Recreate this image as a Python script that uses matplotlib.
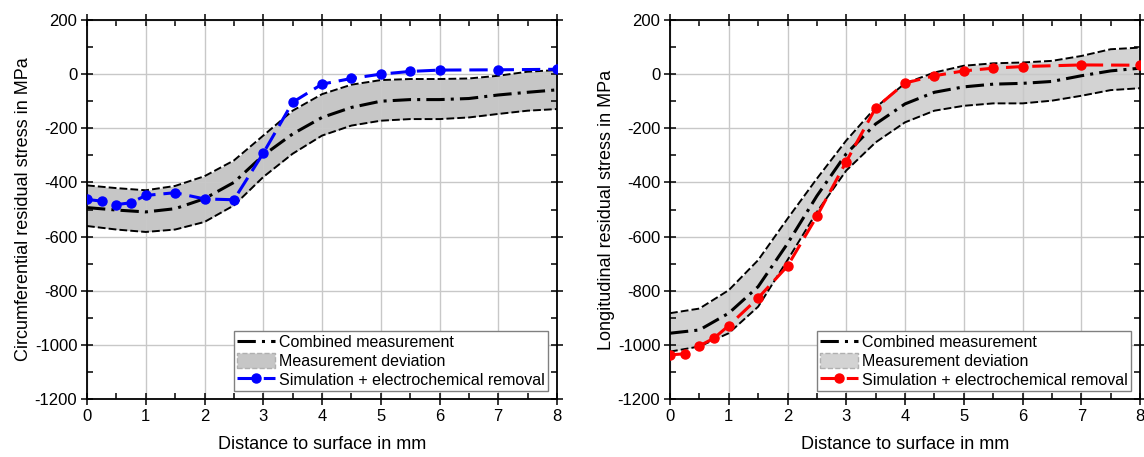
import matplotlib
matplotlib.use("Agg")
import matplotlib.pyplot as plt
from matplotlib.lines import Line2D
from matplotlib.patches import Patch
from matplotlib.ticker import MultipleLocator

plt.rcParams['font.family'] = ['Liberation Sans', 'DejaVu Sans']
plt.rcParams['axes.unicode_minus'] = False

# ---- data ----
x_meas = [0, 0.5, 1, 1.5, 2, 2.5, 3, 3.5, 4, 4.5, 5, 5.5, 6, 6.5, 7, 7.5, 8]

circ_mean = [-493, -502, -509, -497, -460, -400, -300, -221, -160, -123, -100, -94, -94, -90, -77, -67, -58]
circ_upper = [-411, -421, -429, -413, -377, -319, -227, -135, -74, -39, -22, -18, -18, -16, -6, 9, 15]
circ_lower = [-561, -574, -583, -574, -546, -485, -380, -294, -227, -190, -172, -166, -166, -160, -147, -135, -129]

long_mean = [-957, -945, -883, -785, -626, -450, -294, -184, -110, -67, -47, -37, -34, -27, -6, 12, 22]
long_upper = [-883, -866, -798, -687, -534, -386, -245, -123, -34, 6, 31, 40, 43, 49, 67, 92, 98]
long_lower = [-1025, -1006, -957, -859, -687, -509, -356, -252, -178, -135, -117, -108, -108, -98, -80, -59, -52]

x_sim = [0, 0.25, 0.5, 0.75, 1, 1.5, 2, 2.5, 3, 3.5, 4, 4.5, 5, 5.5, 6, 7, 8]
circ_sim = [-463, -469, -482, -475, -448, -438, -461, -464, -292, -104, -37, -16, 0, 10, 15, 16, 18]
long_sim = [-1037, -1033, -1004, -975, -929, -827, -709, -525, -323, -125, -33, -6, 12, 22, 28, 34, 33]

labels = ["Combined measurement", "Measurement deviation",
          "Simulation + electrochemical removal"]
xlabel = "Distance to surface in mm"
ylabels = ["Circumferential residual stress in MPa", "Longitudinal residual stress in MPa"]

# ---- figure ----
fig = plt.figure(figsize=(11.44, 4.57), dpi=100)
W, H = 1144, 457
ax1 = fig.add_axes([87 / W, 1 - 399 / H, 470 / W, 379 / H])
ax2 = fig.add_axes([670 / W, 1 - 399 / H, 470 / W, 379 / H])

DASHDOT = (0, (6, 2, 1, 2))
BAND_DASH = (0, (4, 1.6))
SIM_DASH = (0, (6, 2.6))

panels = [
    (ax1, circ_mean, circ_upper, circ_lower, circ_sim, '#0000ff', '#c6c6c6', ylabels[0]),
    (ax2, long_mean, long_upper, long_lower, long_sim, '#ff0000', '#d3d3d3', ylabels[1]),
]

for ax, mean, up, lo, sim, col, fillc, ylab in panels:
    ax.set_axisbelow(True)
    ax.fill_between(x_meas, lo, up, color=fillc, lw=0, zorder=0.4)
    ax.plot(x_meas, up, color='black', lw=1.4, linestyle=BAND_DASH, zorder=2)
    ax.plot(x_meas, lo, color='black', lw=1.4, linestyle=BAND_DASH, zorder=2)
    ax.plot(x_meas, mean, color='black', lw=2.2, linestyle=DASHDOT, zorder=3)
    ax.plot(x_sim, sim, color=col, lw=2.2, linestyle=SIM_DASH, marker='o',
            markersize=6.5, zorder=4)

    ax.set_xlim(0, 8)
    ax.set_ylim(-1200, 200)
    ax.xaxis.set_major_locator(MultipleLocator(1))
    ax.xaxis.set_minor_locator(MultipleLocator(0.5))
    ax.yaxis.set_major_locator(MultipleLocator(200))
    ax.yaxis.set_minor_locator(MultipleLocator(100))
    ax.grid(True, which='major', color='#c8c8c8', lw=1.0)
    ax.tick_params(which='major', direction='inout', length=8, width=1.1,
                   top=True, right=True, labelsize=12, pad=3, colors='black')
    ax.tick_params(which='minor', direction='in', length=4, width=1.1,
                   top=True, right=True)
    for s in ax.spines.values():
        s.set_linewidth(1.3)
        s.set_color('black')
    ax.set_xlabel(xlabel, fontsize=13, labelpad=9)
    ax.set_ylabel(ylab, fontsize=13, labelpad=2)

    handles = [
        Line2D([], [], color='black', lw=2.2, linestyle=DASHDOT),
        Patch(facecolor=fillc, edgecolor='#b0b0b0', linestyle='--', lw=1.0),
        Line2D([], [], color=col, lw=2.2, linestyle=SIM_DASH, marker='o', markersize=6.5),
    ]
    leg = ax.legend(handles, labels, loc='lower right',
                    bbox_to_anchor=(1 - 9 / 470, 8 / 379), borderaxespad=0,
                    fontsize=11.5, frameon=True, fancybox=False, framealpha=1,
                    edgecolor='#808080', handlelength=2.4, handletextpad=0.25,
                    labelspacing=0.2, borderpad=0.2, handleheight=1.0)
    leg.get_frame().set_linewidth(1.0)
    leg.set_zorder(10)

fig.savefig("out.png", dpi=100)
